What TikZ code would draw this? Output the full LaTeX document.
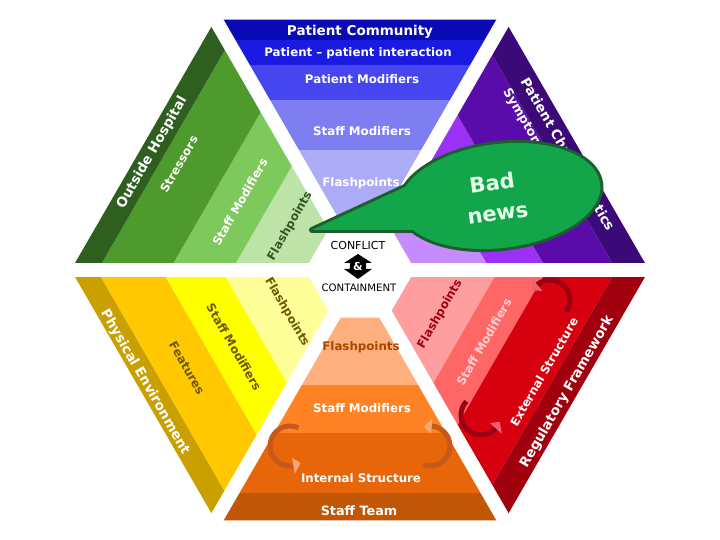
\documentclass[tikz,border=0pt]{standalone}
\usepackage{fontspec}
\setmainfont{DejaVu Sans}
\usepackage{xcolor}

\newcommand{\fsz}[1]{\fontsize{#1}{#1}\selectfont}

\definecolor{pcA}{HTML}{0A0AB4}
\definecolor{pcB}{HTML}{1A1AE0}
\definecolor{pcC}{HTML}{4646F0}
\definecolor{pcD}{HTML}{7E7EF2}
\definecolor{pcE}{HTML}{ACACF6}
\definecolor{ohA}{HTML}{2F5F1F}
\definecolor{ohB}{HTML}{4E9A2C}
\definecolor{ohC}{HTML}{7DC95B}
\definecolor{ohD}{HTML}{BEE3A9}
\definecolor{peA}{HTML}{C9A000}
\definecolor{peB}{HTML}{FFC800}
\definecolor{peC}{HTML}{FFFF00}
\definecolor{peD}{HTML}{FFFF99}
\definecolor{stA}{HTML}{C05606}
\definecolor{stB}{HTML}{E8660A}
\definecolor{stC}{HTML}{FF8324}
\definecolor{stD}{HTML}{FFAE7E}
\definecolor{rfA}{HTML}{A1000E}
\definecolor{rfB}{HTML}{D7000F}
\definecolor{rfC}{HTML}{FF6767}
\definecolor{rfD}{HTML}{FF9E9E}
\definecolor{pchA}{HTML}{3B0A78}
\definecolor{pchB}{HTML}{5A0CAA}
\definecolor{pchC}{HTML}{9B31F4}
\definecolor{pchD}{HTML}{C58BFF}
\definecolor{bubF}{HTML}{12A54A}
\definecolor{bubE}{HTML}{1C5E2C}
\definecolor{bubT}{HTML}{E6FFE8}
\definecolor{gtxt}{HTML}{2E5A1E}
\definecolor{ytxt}{HTML}{6A5800}
\definecolor{otxt}{HTML}{A84800}
\definecolor{rtxt}{HTML}{A0000F}
\definecolor{rlt}{HTML}{FFD0D0}
\definecolor{oarrC}{HTML}{C55A1C}
\definecolor{oheadC}{HTML}{F5A572}
\definecolor{rarrC}{HTML}{9A0010}
\definecolor{rheadC}{HTML}{F06070}

\begin{document}
\begin{tikzpicture}[x=1pt,y=1pt,
    lbl/.style={font=\bfseries\fsz{11.8}, inner sep=0pt},
    big/.style={font=\bfseries\fsz{13.5}, inner sep=0pt},
    gap/.style={draw=white, line width=14pt},
    oarr/.style={draw=oarrC, line width=5pt},
    rarr/.style={draw=rarrC, line width=5pt}]
\useasboundingbox (-360,-270) rectangle (360,270);

% patient community
\begin{scope}
  \clip (0,0) -- (60:289) -- (120:289) -- cycle;
  \fill [pcE] (-300,-10) rectangle (300,120);
  \fill [pcD] (-300,120) rectangle (300,170);
  \fill [pcC] (-300,170) rectangle (300,205);
  \fill [pcB] (-300,205) rectangle (300,230);
  \fill [pcA] (-300,230) rectangle (300,260);
\end{scope}
% outside hospital
\begin{scope}
  \clip (0,0) -- (120:289) -- (180:289) -- cycle;
  \begin{scope}[rotate=60]
    \fill [ohD] (-300,-10) rectangle (300,111);
    \fill [ohC] (-300,111) rectangle (300,165);
    \fill [ohB] (-300,165) rectangle (300,227);
    \fill [ohA] (-300,227) rectangle (300,260);
  \end{scope}
\end{scope}
% physical environment
\begin{scope}
  \clip (0,0) -- (180:289) -- (240:289) -- cycle;
  \begin{scope}[rotate=120]
    \fill [peD] (-300,-10) rectangle (300,120);
    \fill [peC] (-300,120) rectangle (300,172);
    \fill [peB] (-300,172) rectangle (300,228);
    \fill [peA] (-300,228) rectangle (300,260);
  \end{scope}
\end{scope}
% staff team
\begin{scope}
  \clip (0,0) -- (240:289) -- (300:289) -- cycle;
  \begin{scope}[rotate=180]
    \fill [stD] (-300,-10) rectangle (300,115);
    \fill [stC] (-300,115) rectangle (300,163);
    \fill [stB] (-300,163) rectangle (300,223);
    \fill [stA] (-300,223) rectangle (300,260);
  \end{scope}
\end{scope}
% regulatory framework
\begin{scope}
  \clip (0,0) -- (300:289) -- (360:289) -- cycle;
  \begin{scope}[rotate=240]
    \fill [rfD] (-300,-10) rectangle (300,120);
    \fill [rfC] (-300,120) rectangle (300,162);
    \fill [rfB] (-300,162) rectangle (300,222);
    \fill [rfA] (-300,222) rectangle (300,260);
  \end{scope}
\end{scope}
% patient characteristics
\begin{scope}
  \clip (0,0) -- (0:289) -- (60:289) -- cycle;
  \begin{scope}[rotate=300]
    \fill [pchD] (-300,-10) rectangle (300,113);
    \fill [pchC] (-300,113) rectangle (300,162);
    \fill [pchB] (-300,162) rectangle (300,222);
    \fill [pchA] (-300,222) rectangle (300,260);
  \end{scope}
\end{scope}

% white gaps and middle
\draw [gap] (0:320) -- (180:320);
\draw [gap] (60:320) -- (240:320);
\draw [gap] (120:320) -- (300:320);
\fill [white] (0:55) -- (60:55) -- (120:55) -- (180:55) -- (240:55) -- (300:55) -- cycle;

% top labels
\node [big, text=white] (pcomm) at (0,238) {Patient Community};
\node [lbl, text=white] (ppint) at (-2,217) {Patient – patient interaction};
\node [lbl, text=white] (pmod) at (2,191) {Patient Modifiers};
\node [lbl, text=white] (pcsm) at (2,139) {Staff Modifiers};
\node [lbl, text=white] (pcfp) at (1,87) {Flashpoints};

% upper left labels
\node [big, text=white, rotate=60] (ohosp) at (-208,117) {Outside Hospital};
\node [lbl, text=white, rotate=60] (stress) at (-181,106) {Stressors};
\node [lbl, text=white, rotate=60] (ohsm) at (-120,68) {Staff Modifiers};
\node [lbl, text=gtxt, rotate=60] (ohfp) at (-70,44) {Flashpoints};

% lower left labels
\node [big, text=white, rotate=-60] (phys) at (-215,-112) {Physical Environment};
\node [lbl, text=ytxt, rotate=-60] (feat) at (-173,-98) {Features};
\node [lbl, text=ytxt, rotate=-60] (pesm) at (-126,-77) {Staff Modifiers};
\node [lbl, text=ytxt, rotate=-60] (pefp) at (-73,-42) {Flashpoints};

% bottom labels
\node [lbl, text=otxt] (stfp) at (1,-77) {Flashpoints};
\node [lbl, text=white] (stsm) at (2,-138) {Staff Modifiers};
\node [lbl, text=white] (intst) at (1,-208) {Internal Structure};
\node [big, text=white, font=\bfseries\fsz{12.8}] (steam) at (-1,-241) {Staff Team};

% lower right labels
\node [lbl, text=rtxt, rotate=60] (rffp) at (80,-44) {Flashpoints};
\node [lbl, text=rlt, rotate=60] (rfsm) at (124,-72) {Staff Modifiers};
\node [lbl, text=white, rotate=60] (extst) at (184,-102) {External Structure};
\node [big, text=white, rotate=60] (regfw) at (207,-122) {Regulatory Framework};

% upper right labels
\node [big, text=white, rotate=-60] (pchar) at (208,116) {Patient Characteristics};
\node [lbl, text=white, rotate=-60, font=\bfseries\fsz{12.6}] (sympt) at (176,128) {Symptomatology};

% circling arrows
\draw [oarr] ([shift={(-70,-176)}]65:20) arc (65:280:20);
\fill [oheadC] ([shift={(-70,-176)}]302:20) -- ([shift={(-70,-176)}]280:28) -- ([shift={(-70,-176)}]280:12) -- cycle;
\draw [oarr] ([shift={(70,-176)}]-110:20) arc (-110:85:20);
\fill [oheadC] ([shift={(70,-176)}]107:20) -- ([shift={(70,-176)}]85:28) -- ([shift={(70,-176)}]85:12) -- cycle;
\draw [rarr] ([shift={(190,-30)}]-35:20) arc (-35:130:20);
\fill [rheadC] ([shift={(190,-30)}]152:20) -- ([shift={(190,-30)}]130:28) -- ([shift={(190,-30)}]130:12) -- cycle;
\draw [rarr] ([shift={(121,-145)}]137:20) arc (137:318:20);
\fill [rheadC] ([shift={(121,-145)}]340:20) -- ([shift={(121,-145)}]318:28) -- ([shift={(121,-145)}]318:12) -- cycle;

% bad news bubble
\draw [bubE, line width=6pt, rotate around={7:(140,74)}] (140,74) ellipse (101 and 52);
\draw [bubE, line width=6pt, line join=round] (-48,40) -- (60,90) -- (90,40) -- cycle;
\fill [bubF, rotate around={7:(140,74)}] (140,74) ellipse (101 and 52);
\fill [bubF] (-48,40) -- (60,90) -- (90,40) -- cycle;
\node [text=bubT, font=\bfseries\fsz{21}, rotate=8, inner sep=0pt] (bad) at (132,87) {Bad};
\node [text=bubT, font=\bfseries\fsz{21}, rotate=8, inner sep=0pt] (news) at (138,55) {news};

% conflict and containment
\node [font=\fsz{11}, inner sep=0pt] (confl) at (-2,25) {CONFLICT};
\fill [black] (-2,16) -- (12,7) -- (6,7) -- (6,1) -- (12,1) -- (-2,-9) -- (-16,1) -- (-10,1) -- (-10,7) -- (-16,7) -- cycle;
\node [text=white, font=\bfseries\fsz{11}, inner sep=0pt] (amp) at (-2,4) {\&};
\node [font=\fsz{10.2}, inner sep=0pt] (contn) at (-1,-18) {CONTAINMENT};
\end{tikzpicture}
\end{document}
